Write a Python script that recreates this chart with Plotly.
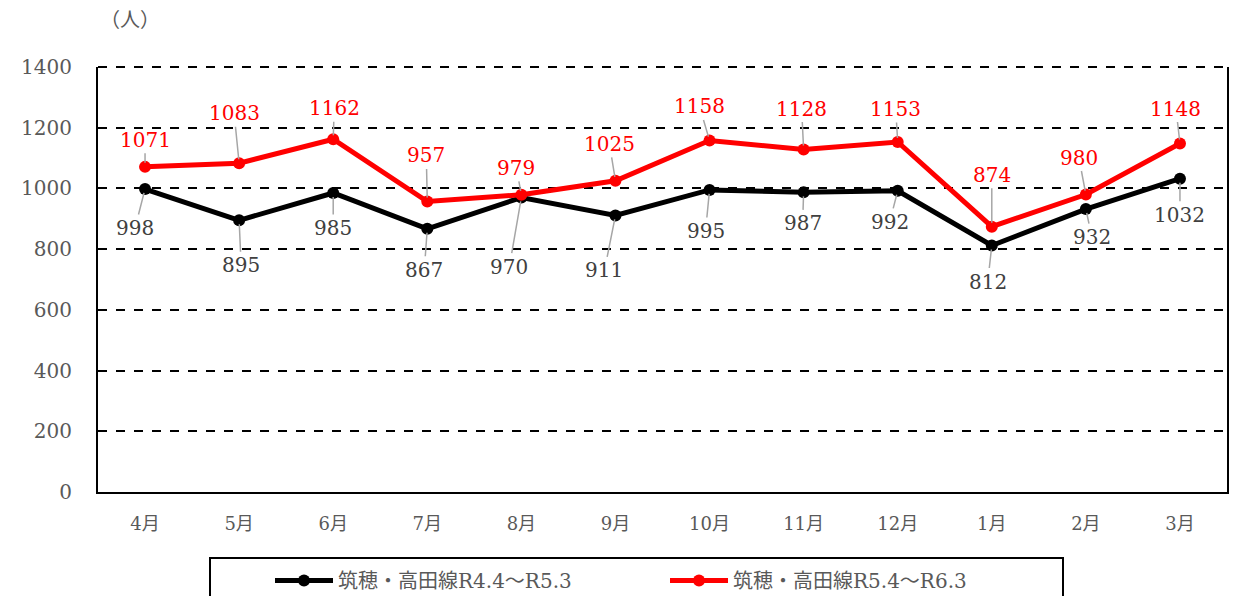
import plotly.graph_objects as go

months = ["4月", "5月", "6月", "7月", "8月", "9月", "10月", "11月", "12月", "1月", "2月", "3月"]
series_r4 = [998, 895, 985, 867, 970, 911, 995, 987, 992, 812, 932, 1032]
series_r5 = [1071, 1083, 1162, 957, 979, 1025, 1158, 1128, 1153, 874, 980, 1148]
name_r4 = "筑穂・高田線R4.4～R5.3"
name_r5 = "筑穂・高田線R5.4～R6.3"
y_ticks = [0, 200, 400, 600, 800, 1000, 1200, 1400]

# label offsets (pixels) for data labels, mimicking the moved labels with leader lines
off_r5 = [(0, -27), (-5, -50), (1, -31), (-1, -46), (-5, -27), (-6, -37),
          (-10, -34), (-2, -41), (-2, -33), (0, -52), (-7, -37), (-4, -35)]
off_r4 = [(-10, 39), (2, 45), (0, 35), (-3, 41), (-12, 69), (-11, 55),
          (-4, 41), (-1, 31), (-8, 31), (-4, 36), (6, 28), (0, 36)]

FONT = "DejaVu Serif, Noto Sans CJK JP, serif"

# the page body has an 8px margin, so the figure is drawn at (8, 8)
W, H = 1239, 588
L, R, T, B = 90, 20, 59, 104
PW, PH = W - L - R, H - T - B

fig = go.Figure()
fig.add_trace(go.Scatter(x=months, y=series_r4, name=name_r4, mode="lines+markers",
                         line=dict(color="black", width=5),
                         marker=dict(color="black", size=12)))
fig.add_trace(go.Scatter(x=months, y=series_r5, name=name_r5, mode="lines+markers",
                         line=dict(color="#ff0000", width=5),
                         marker=dict(color="#ff0000", size=12)))

annotations = []
for m, v, (ax, ay) in zip(months, series_r5, off_r5):
    annotations.append(dict(x=m, y=v, xref="x", yref="y", text=str(v), showarrow=True,
                            ax=ax, ay=ay, arrowhead=0, arrowwidth=1.5, arrowcolor="#a6a6a6",
                            standoff=4, font=dict(family=FONT, size=20, color="#ff0000")))
for m, v, (ax, ay) in zip(months, series_r4, off_r4):
    annotations.append(dict(x=m, y=v, xref="x", yref="y", text=str(v), showarrow=True,
                            ax=ax, ay=ay, arrowhead=0, arrowwidth=1.5, arrowcolor="#a6a6a6",
                            standoff=4, font=dict(family=FONT, size=20, color="#404040")))
annotations.append(dict(text="（人）", showarrow=False, xref="paper", yref="paper",
                        x=(130 - 98) / PW, y=1 + (67 - 20) / PH,
                        xanchor="center", yanchor="middle",
                        font=dict(family=FONT, size=20, color="#595959")))

shapes = [
    # legend frame (page coords 210..1063, top 558)
    dict(type="rect", xref="paper", yref="paper",
         x0=(210 - 8 - L) / PW, x1=(1063 - 8 - L) / PW,
         y0=-(558 - 8 - (T + PH)) / PH, y1=-(610 - 8 - (T + PH)) / PH,
         line=dict(color="black", width=2), fillcolor="rgba(0,0,0,0)"),
    # dashed top border of the plot area
    dict(type="line", xref="paper", yref="paper", x0=0, x1=1, y0=1, y1=1,
         line=dict(color="black", width=2, dash="dash")),
]

fig.update_layout(
    width=W, height=H,
    margin=dict(l=L, r=R, t=T, b=B),
    paper_bgcolor="white", plot_bgcolor="white",
    font=dict(family=FONT, size=20, color="#595959"),
    showlegend=True,
    legend=dict(orientation="h", xref="paper", x=(280 - 8 - L - 10) / PW, xanchor="left",
                yref="container", y=1 - 553 / H, yanchor="top",
                borderwidth=0, bgcolor="rgba(0,0,0,0)",
                font=dict(family=FONT, size=20, color="#595959"),
                itemwidth=58, entrywidth=322, traceorder="normal"),
    annotations=annotations,
    shapes=shapes,
)
fig.update_xaxes(type="category", range=[-0.5, 11.5], showgrid=False, showline=True,
                 linecolor="black", linewidth=2, ticks="", ticklabelstandoff=14, automargin=False,
                 tickfont=dict(family=FONT, size=18, color="#595959"))
fig.update_yaxes(range=[0, 1400], tickvals=y_ticks, showgrid=True, gridcolor="black",
                 griddash="dash", gridwidth=1.5, showline=True, mirror=True, automargin=False,
                 linecolor="black", linewidth=2, ticks="", ticklabelstandoff=20,
                 zeroline=False, tickfont=dict(family=FONT, size=20, color="#595959"))

fig.write_html("out.html")
